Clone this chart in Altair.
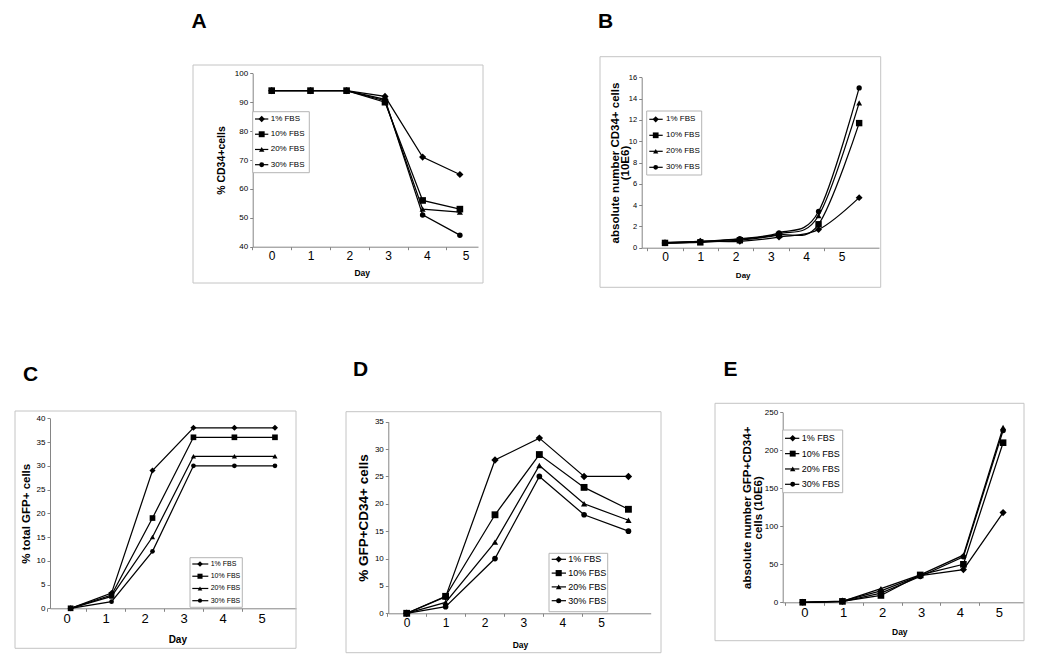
import altair as alt
import pandas as pd

# ---------------- data ----------------
SERIES = ["1% FBS", "10% FBS", "20% FBS", "30% FBS"]
SHAPES = ["diamond", "square", "triangle-up", "circle"]

# Panel A: % CD34+ cells
A_DAY = [0, 1, 1.93, 2.92, 3.89, 4.85]
A_1 = [94, 94, 94, 92, 71, 65]
A_10 = [94, 94, 94, 90, 56, 53]
A_20 = [94, 94, 94, 90.5, 53, 52]
A_30 = [94, 94, 94, 91, 51, 44]

# Panel B: absolute number CD34+ cells (10E6)
B_DAY = [0, 1, 2.12, 3.23, 4.35, 5.5]
B_1 = [0.45, 0.6, 0.6, 1.0, 1.7, 4.7]
B_10 = [0.45, 0.5, 0.7, 1.2, 2.2, 11.7]
B_20 = [0.4, 0.55, 0.8, 1.3, 3.0, 13.6]
B_30 = [0.5, 0.6, 0.85, 1.4, 3.4, 15.0]

# Panel C: % total GFP+ cells
C_DAY = [0.1, 1.15, 2.2, 3.25, 4.3, 5.34]
C_1 = [0, 3.2, 29, 38, 38, 38]
C_10 = [0, 2.8, 19, 36, 36, 36]
C_20 = [0, 2.5, 15, 32, 32, 32]
C_30 = [0, 1.4, 12, 30, 30, 30]

# Panel D: % GFP+CD34+ cells
D_DAY = [0, 1.0, 2.27, 3.41, 4.56, 5.7]
D_1 = [0, 3, 28, 32, 25, 25]
D_10 = [0, 3.1, 18, 29, 23, 19]
D_20 = [0, 2, 13, 27, 20, 17]
D_30 = [0, 1.2, 10, 25, 18, 15]

# Panel E: absolute number GFP+CD34+ cells (10E6)
E_DAY = [-0.04, 0.98, 1.97, 2.98, 4.09, 5.11]
E_1 = [0, 1.5, 15, 35, 43, 118]
E_10 = [0, 1.2, 9, 36, 50, 210]
E_20 = [0, 1.3, 18, 36, 62, 230]
E_30 = [0, 1.0, 12, 34, 60, 226]

DAY_LABELS = [0, 1, 2, 3, 4, 5]


def long(days, cols):
    rows = []
    for name, vals in zip(SERIES, cols):
        for d, v in zip(days, vals):
            rows.append({"day": d, "value": v, "series": name})
    return pd.DataFrame(rows)


# ---------------- layout (reference page pixels) ----------------
W, H = 1034, 655
M = 8  # page margin
FONT = "Liberation Sans"
SIZE_FACTORS = [1.7, 1.0, 1.35, 1.0]  # relative marker areas per shape

LAYOUT = {
    "A": dict(frame=(193, 65, 483, 283), xl=252.7, xr=478, yb=246.7, yt=73.3,
              ydom=[40, 100], ystep=10, p0=271.7, s=38.8,
              ytitle="% CD34+cells", ytx=221.7, ytfs=10.5,
              xtx=361.7, xty=272.7, xtfs=8.5, xlfs=12, ylfs=8,
              box=(252.7, 111.7, 309.3, 172.7), ly=(119, 164.7), lline=(255, 268.3),
              lmark=261.7, ltext=270.7, lfs=8, letter=(199, 22), msize=30, interp="linear"),
    "B": dict(frame=(600, 56.7, 880.7, 287.3), xl=641.7, xr=879, yb=247.7, yt=77.3,
              ydom=[0, 16], ystep=2, p0=665, s=35.3,
              ytitle=["absolute number CD34+ cells", "(10E6)"], ytx=615, ytfs=11.5,
              xtx=742.7, xty=275, xtfs=8, xlfs=12, ylfs=7.5,
              box=(646.7, 111, 701.7, 175), ly=(119.3, 167.3), lline=(649.3, 662.7),
              lmark=655.7, ltext=666, lfs=8, letter=(605.5, 22), msize=28, interp="cardinal"),
    "C": dict(frame=(15, 411, 296, 648.3), xl=50, xr=296, yb=608.3, yt=418.3,
              ydom=[0, 40], ystep=5, p0=66.7, s=39,
              ytitle="% total GFP+ cells", ytx=26.7, ytfs=11.5,
              xtx=177.3, xty=639.3, xtfs=10, xlfs=13, ylfs=8,
              box=(190, 557.7, 242.3, 607.3), ly=(564, 600.7), lline=(192.3, 208.3),
              lmark=200, ltext=210.7, lfs=7, letter=(30.5, 375), msize=22, interp="linear"),
    "D": dict(frame=(346, 411.7, 661, 652.7), xl=388.3, xr=650.7, yb=613.3, yt=421.7,
              ydom=[0, 35], ystep=5, p0=406.7, s=38.9,
              ytitle="% GFP+CD34+ cells", ytx=363.5, ytfs=13.5,
              xtx=520, xty=644, xtfs=8.5, xlfs=12, ylfs=8,
              box=(549, 553.3, 607.7, 611.7), ly=(559.3, 600.7), lline=(551.7, 566),
              lmark=558.7, ltext=568.3, lfs=9, letter=(360.5, 370), msize=32, interp="linear"),
    "E": dict(frame=(715, 403.3, 1024, 640.7), xl=782.7, xr=1023.3, yb=602.3, yt=412.3,
              ydom=[0, 250], ystep=50, p0=804.3, s=38.9,
              ytitle=["absolute number GFP+CD34+", "cells (10E6)"], ytx=747.5, ytfs=11.5,
              xtx=899.3, xty=631.7, xtfs=8.5, xlfs=13, ylfs=8,
              box=(782.7, 430, 842.7, 492.7), ly=(438.3, 484.3), lline=(785, 799.3),
              lmark=792.7, ltext=801.7, lfs=9, letter=(730.5, 370), msize=30, interp="linear"),
}

ONE = pd.DataFrame({"k": [0]})
LEG = pd.DataFrame({"series": SERIES})
AXIS_GRAY = "#858585"


def shape_enc():
    return alt.Shape("series:N", scale=alt.Scale(domain=SERIES, range=SHAPES), legend=None)


def size_enc(base):
    return alt.Size("series:N", scale=alt.Scale(domain=SERIES, range=[base * f for f in SIZE_FACTORS]),
                    legend=None)


def panel(letter, df):
    L = LAYOUT[letter]
    s, p0 = L["s"], L["p0"]
    xl, xr, yb, yt = L["xl"], L["xr"], L["yb"], L["yt"]
    xdom = [(xl - p0) / s, (xr - p0) / s]
    lo, hi = L["ydom"]
    yvals = list(range(lo, hi + 1, L["ystep"]))

    xaxis = alt.Axis(
        orient="bottom", offset=(yb - M) - H, values=DAY_LABELS, format="d",
        tickOffset=-s / 2, labelOffset=s / 2, tickSize=3, tickColor=AXIS_GRAY,
        domainColor=AXIS_GRAY, labelFont=FONT, labelFontSize=L["xlfs"], labelColor="black",
        labelPadding=1, labelFlush=False, labelOverlap=False, grid=False,
        title="Day", titleFont=FONT, titleFontSize=L["xtfs"], titleFontWeight="bold",
        titleColor="black", titleX=L["xtx"] - M, titleY=L["xty"] - yb,
        titleBaseline="middle", titleAlign="center", titleAngle=0,
    )
    yaxis = alt.Axis(
        orient="left", offset=-(xl - M), values=yvals, format="d",
        tickSize=3, tickColor=AXIS_GRAY, domainColor=AXIS_GRAY,
        labelFont=FONT, labelFontSize=L["ylfs"], labelColor="black", labelPadding=2,
        labelFlush=False, labelOverlap=False, grid=False,
        title=L["ytitle"], titleFont=FONT, titleFontSize=L["ytfs"], titleFontWeight="bold",
        titleColor="black", titleX=L["ytx"] - xl, titleY=(yb + yt) / 2 - M,
        titleBaseline="middle", titleAlign="center", titleAngle=270, titleLineHeight=L["ytfs"] * 0.95,
    )
    base = alt.Chart(df).encode(
        x=alt.X("day:Q", scale=alt.Scale(domain=xdom, range=[xl - M, xr - M], nice=False, zero=False),
                axis=xaxis),
        y=alt.Y("value:Q", scale=alt.Scale(domain=[lo, hi], range=[yb - M, yt - M], nice=False, zero=False),
                axis=yaxis),
    )
    lines = base.mark_line(color="black", strokeWidth=1.25, interpolate=L["interp"]).encode(detail="series:N")
    pts = base.mark_point(filled=True, color="black", opacity=1).encode(
        shape=shape_enc(), size=size_enc(L["msize"]))
    data_layer = alt.layer(lines, pts)

    bx0, by0, bx1, by1 = L["box"]
    ly = alt.Y("series:N", scale=alt.Scale(type="point", domain=SERIES,
                                           range=[L["ly"][0] - M, L["ly"][1] - M], padding=0),
               axis=None)
    box = alt.Chart(ONE).mark_rect(fill="white", stroke="#b4b4b4", strokeWidth=1).encode(
        x=alt.value(bx0 - M), x2=alt.value(bx1 - M), y=alt.value(by0 - M), y2=alt.value(by1 - M))
    lrule = alt.Chart(LEG).mark_rule(color="black", strokeWidth=1.2).encode(
        x=alt.value(L["lline"][0] - M), x2=alt.value(L["lline"][1] - M), y=ly)
    lpts = alt.Chart(LEG).mark_point(filled=True, color="black", opacity=1).encode(
        x=alt.value(L["lmark"] - M), y=ly, shape=shape_enc(), size=size_enc(L["msize"] * 0.8))
    ltxt = alt.Chart(LEG).mark_text(align="left", baseline="middle", font=FONT,
                                    fontSize=L["lfs"], color="black").encode(
        x=alt.value(L["ltext"] - M), y=ly, text="series:N")
    legend_layer = alt.layer(box, lrule, lpts, ltxt)

    fx0, fy0, fx1, fy1 = L["frame"]
    frame = alt.Chart(ONE).mark_rect(filled=False, stroke="#c4c4c4", strokeWidth=1).encode(
        x=alt.value(fx0 - M), x2=alt.value(fx1 - M), y=alt.value(fy0 - M), y2=alt.value(fy1 - M))
    lab = alt.Chart(ONE).mark_text(text=letter, font=FONT, fontSize=21, fontWeight="bold",
                                   align="center", baseline="middle", color="black").encode(
        x=alt.value(L["letter"][0] - M), y=alt.value(L["letter"][1] - M))
    return [frame, lab, data_layer, legend_layer]


layers = []
layers += panel("A", long(A_DAY, [A_1, A_10, A_20, A_30]))
layers += panel("B", long(B_DAY, [B_1, B_10, B_20, B_30]))
layers += panel("C", long(C_DAY, [C_1, C_10, C_20, C_30]))
layers += panel("D", long(D_DAY, [D_1, D_10, D_20, D_30]))
layers += panel("E", long(E_DAY, [E_1, E_10, E_20, E_30]))

chart = (
    alt.layer(*layers)
    .resolve_scale(x="independent", y="independent", shape="independent", size="independent")
    .resolve_axis(x="independent", y="independent")
    .properties(width=W, height=H, autosize=alt.AutoSizeParams(type="none"), padding=0,
                background="white")
    .configure_view(stroke=None)
)

chart.save("out.html", embed_options={"renderer": "svg", "actions": False})
